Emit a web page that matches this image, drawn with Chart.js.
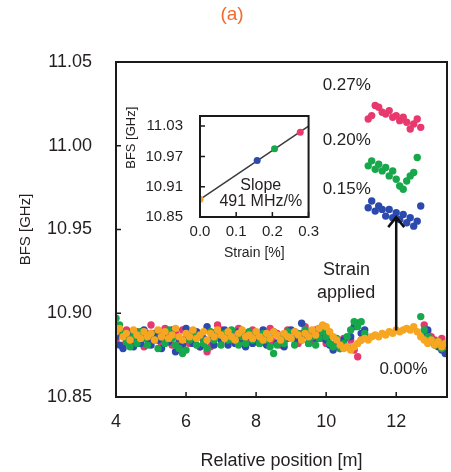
<!DOCTYPE html>
<html><head><meta charset="utf-8">
<script src="https://cdn.jsdelivr.net/npm/chart.js@4.4.1/dist/chart.umd.min.js"></script>
<style>
html,body{margin:0;padding:0;background:#fff;}
#wrap{position:relative;width:451px;height:472px;overflow:hidden;}
#main{position:absolute;left:0;top:0;}
#inset{position:absolute;left:100px;top:90px;}
</style></head><body>
<div id="wrap"><canvas id="main" width="451" height="472"></canvas><canvas id="inset" width="225" height="175"></canvas></div>
<script>
// ---------- DATA ----------
const positions = [
  4.0,4.1,4.2,4.3,4.4,4.5,4.6,4.7,4.8,4.9,
  5.0,5.1,5.2,5.3,5.4,5.5,5.6,5.7,5.8,5.9,
  6.0,6.1,6.2,6.3,6.4,6.5,6.6,6.7,6.8,6.9,
  7.0,7.1,7.2,7.3,7.4,7.5,7.6,7.7,7.8,7.9,
  8.0,8.1,8.2,8.3,8.4,8.5,8.6,8.7,8.8,8.9,
  9.0,9.1,9.2,9.3,9.4,9.5,9.6,9.7,9.8,9.9,
  10.0,10.1,10.2,10.3,10.4,10.5,10.6,10.7,10.8,10.9,
  11.0,11.1,11.2,11.3,11.4,11.5,11.6,11.7,11.8,11.9,
  12.0,12.1,12.2,12.3,12.4,12.5,12.6,12.7,12.8,12.9,
  13.0,13.1,13.2,13.3,13.4
];
const bfs000 = [
  10.889,10.891,10.886,10.888,10.884,10.890,10.887,10.885,10.889,10.886,
  10.888,10.884,10.890,10.886,10.889,10.885,10.887,10.891,10.886,10.884,
  10.888,10.886,10.890,10.885,10.887,10.889,10.884,10.888,10.886,10.890,
  10.887,10.885,10.889,10.886,10.884,10.888,10.890,10.886,10.887,10.885,
  10.889,10.886,10.884,10.888,10.885,10.889,10.887,10.884,10.888,10.886,
  10.885,10.889,10.887,10.884,10.888,10.886,10.890,10.887,10.891,10.893,
  10.892,10.889,10.886,10.884,10.881,10.879,10.880,10.878,10.880,10.882,
  10.884,10.885,10.884,10.886,10.887,10.886,10.888,10.887,10.889,10.888,
  10.890,10.889,10.890,10.891,10.890,10.892,10.889,10.886,10.884,10.882,
  10.884,10.881,10.883,10.880,10.882
];
const bfs015 = [
  10.886,10.881,10.879,10.884,10.888,10.880,10.885,10.882,10.890,10.884,
  10.881,10.888,10.884,10.879,10.886,10.883,10.890,10.877,10.885,10.881,
  10.891,10.886,10.882,10.889,10.880,10.885,10.892,10.884,10.881,10.888,
  10.884,10.890,10.881,10.886,10.882,10.889,10.885,10.880,10.886,10.882,
  10.888,10.884,10.890,10.881,10.885,10.889,10.882,10.886,10.880,10.885,
  10.890,10.884,10.886,10.894,10.887,10.882,10.889,10.885,10.891,10.886,
  10.884,10.881,10.878,10.883,10.879,10.884,10.880,10.886,10.892,10.894,
  10.888,10.890,10.963,10.967,10.961,10.964,10.962,10.958,10.962,10.957,
  10.960,10.956,10.959,10.954,10.957,10.952,10.955,10.964,10.886,10.890,
  10.884,10.882,10.880,10.878,10.876
];
const bfs020 = [
  10.897,10.893,10.888,10.883,10.880,10.886,10.882,10.889,10.885,10.881,
  10.888,10.884,10.879,10.886,10.882,10.890,10.885,10.881,10.879,10.876,
  10.878,10.884,10.888,10.881,10.886,10.882,10.879,10.889,10.884,10.887,
  10.881,10.888,10.884,10.890,10.885,10.881,10.886,10.882,10.889,10.884,
  10.887,10.882,10.888,10.884,10.880,10.876,10.881,10.886,10.882,10.889,
  10.885,10.881,10.888,10.884,10.890,10.882,10.886,10.881,10.885,10.889,
  10.886,10.882,10.880,10.885,10.879,10.882,10.886,10.890,10.895,10.892,
  10.895,10.888,10.988,10.991,10.986,10.989,10.985,10.987,10.982,10.985,
  10.980,10.976,10.974,10.979,10.982,10.984,10.993,10.898,10.890,10.886,
  10.884,10.881,10.883,10.879,10.882
];
const bfs027 = [
  10.884,10.888,10.881,10.890,10.885,10.882,10.889,10.886,10.880,10.888,
  10.893,10.885,10.889,10.882,10.891,10.886,10.881,10.888,10.883,10.890,
  10.885,10.882,10.889,10.886,10.880,10.884,10.877,10.880,10.888,10.893,
  10.890,10.886,10.883,10.889,10.885,10.891,10.882,10.888,10.883,10.890,
  10.886,10.882,10.889,10.885,10.891,10.883,10.888,10.881,10.886,10.890,
  10.885,10.889,10.882,10.888,10.892,10.886,10.883,10.890,10.887,10.885,
  10.882,10.886,10.879,10.884,10.881,10.885,10.880,10.884,10.878,10.874,
  10.884,10.887,11.016,11.018,11.024,11.023,11.020,11.019,11.021,11.017,
  11.018,11.015,11.017,11.014,11.010,11.013,11.016,11.011,10.893,10.889,
  10.886,10.884,10.882,10.885,10.881
];
const seriesLabels = ['0.00%','0.15%','0.20%','0.27%'];
const xTicks = [4,6,8,10,12];
const yTicks = [10.85,10.90,10.95,11.00,11.05];

const insetStrain = [0.000,0.158,0.206,0.277];
const insetBFS = [10.885,10.962,10.985,11.018];
const fitStrain = [0.0,0.3];
const fitBFS = [10.885,11.030];
const insetXTicks = [0.0,0.1,0.2,0.3];
const insetYTicks = [10.85,10.91,10.97,11.03];

// ---------- STYLE ----------
const FONT = '"Liberation Sans", Arial, Helvetica, sans-serif';
const TXT = '#231f20';
const COLORS = {'0.00%':'#f7a621','0.15%':'#2c4aae','0.20%':'#17a84b','0.27%':'#e8396f'};

const mainDecor = {
  id:'mainDecor',
  afterDatasetsDraw(chart){
    const {ctx, chartArea:a, scales:{x,y}} = chart;
    ctx.save();
    ctx.strokeStyle='#1a1a1a';
    ctx.lineWidth=2;
    ctx.strokeRect(a.left,a.top,a.right-a.left,a.bottom-a.top);
    ctx.lineWidth=1.5;
    ctx.beginPath();
    yTicks.forEach(v=>{const py=y.getPixelForValue(v);ctx.moveTo(a.left,py);ctx.lineTo(a.left+5,py);});
    xTicks.forEach(v=>{const px=x.getPixelForValue(v);ctx.moveTo(px,a.bottom);ctx.lineTo(px,a.bottom-5);});
    ctx.stroke();
    ctx.fillStyle=TXT;
    ctx.textBaseline='middle';
    ctx.textAlign='left';
    ctx.font='17px '+FONT;
    ctx.fillText('0.27%', x.getPixelForValue(9.9), y.getPixelForValue(11.036));
    ctx.fillText('0.20%', x.getPixelForValue(9.9), y.getPixelForValue(11.003));
    ctx.fillText('0.15%', x.getPixelForValue(9.9), y.getPixelForValue(10.974));
    ctx.fillText('0.00%', x.getPixelForValue(11.52), y.getPixelForValue(10.8666));
    ctx.textAlign='center';
    ctx.font='18px '+FONT;
    ctx.fillText('Strain', x.getPixelForValue(10.58), y.getPixelForValue(10.926));
    ctx.fillText('applied', x.getPixelForValue(10.57), y.getPixelForValue(10.912));
    const ax=x.getPixelForValue(12), y0=y.getPixelForValue(10.8897), y1=y.getPixelForValue(10.958);
    ctx.strokeStyle='#111';
    ctx.lineWidth=2.5;
    ctx.beginPath();
    ctx.moveTo(ax,y0);ctx.lineTo(ax,y1+1);
    ctx.moveTo(ax-8,y1+11);ctx.lineTo(ax,y1+1);ctx.lineTo(ax+8,y1+11);
    ctx.stroke();
    ctx.fillStyle='#f26b2c';
    ctx.font='19px '+FONT;
    ctx.textAlign='center';
    ctx.fillText('(a)', 232, 15);
    ctx.restore();
  }
};

const makeSeries = (vals) => positions.map((p,i)=>({x:p,y:vals[i]}));
const seriesVals = {'0.00%':bfs000,'0.15%':bfs015,'0.20%':bfs020,'0.27%':bfs027};
const orderMap = {'0.00%':0,'0.15%':2,'0.20%':1,'0.27%':3};

new Chart(document.getElementById('main'),{
  type:'scatter',
  data:{datasets: seriesLabels.map(l=>({
    label:l, data:makeSeries(seriesVals[l]), backgroundColor:COLORS[l],
    pointRadius:3.7, borderWidth:0, order:orderMap[l]
  }))},
  options:{
    responsive:false, animation:false, events:[],
    layout:{padding:{left:0,right:3,top:62,bottom:0}},
    plugins:{legend:{display:false},tooltip:{enabled:false},title:{display:false}},
    scales:{
      x:{type:'linear',min:4,max:13.45,
        afterFit(s){s.height=75;},
        afterBuildTicks(s){s.ticks=xTicks.map(v=>({value:v}));},
        grid:{display:false,drawTicks:false},border:{display:false},
        ticks:{autoSkip:false,maxRotation:0,padding:14,color:TXT,font:{size:18,family:FONT},callback:v=>String(v)},
        title:{display:true,text:'Relative position [m]',color:TXT,font:{size:18,family:FONT},padding:{top:0,bottom:0}}
      },
      y:{type:'linear',min:10.85,max:11.05,
        afterFit(s){s.width=116;},
        afterBuildTicks(s){s.ticks=yTicks.map(v=>({value:v}));},
        grid:{display:false,drawTicks:false},border:{display:false},
        ticks:{autoSkip:false,padding:24,color:TXT,font:{size:18,family:FONT},callback:v=>v.toFixed(2)},
        title:{display:true,text:'BFS [GHz]',color:TXT,font:{size:15,family:FONT},padding:{top:17,bottom:0}}
      }
    }
  },
  plugins:[mainDecor]
});

// ---------- INSET ----------
const insetColors = [COLORS['0.00%'],COLORS['0.15%'],COLORS['0.20%'],COLORS['0.27%']];
const insetDecor = {
  id:'insetDecor',
  beforeDatasetsDraw(chart){
    const {ctx, chartArea:a} = chart;
    ctx.save();ctx.fillStyle='#fff';ctx.fillRect(a.left,a.top,a.right-a.left,a.bottom-a.top);ctx.restore();
  },
  afterDatasetsDraw(chart){
    const {ctx, chartArea:a, scales:{x,y}} = chart;
    ctx.save();
    ctx.strokeStyle='#1a1a1a';ctx.lineWidth=2;
    ctx.strokeRect(a.left,a.top,a.right-a.left,a.bottom-a.top);
    ctx.lineWidth=1.5;ctx.beginPath();
    insetYTicks.forEach(v=>{const py=y.getPixelForValue(v);ctx.moveTo(a.left,py);ctx.lineTo(a.left+5,py);});
    insetXTicks.forEach(v=>{const px=x.getPixelForValue(v);ctx.moveTo(px,a.bottom);ctx.lineTo(px,a.bottom-5);});
    ctx.stroke();
    ctx.fillStyle=TXT;ctx.textAlign='center';ctx.textBaseline='middle';
    ctx.font='16px '+FONT;
    ctx.fillText('Slope', x.getPixelForValue(0.168), y.getPixelForValue(10.912));
    ctx.fillText('491 MHz/%', x.getPixelForValue(0.168), y.getPixelForValue(10.880));
    // rotated y title
    ctx.save();
    ctx.translate(31, y.getPixelForValue(11.007));
    ctx.rotate(-Math.PI/2);
    ctx.font='13px '+FONT;
    ctx.fillText('BFS [GHz]', 0, 0);
    ctx.restore();
    ctx.restore();
  }
};

new Chart(document.getElementById('inset'),{
  type:'scatter',
  data:{datasets:[
    {label:'fit',data:fitStrain.map((s,i)=>({x:s,y:fitBFS[i]})),showLine:true,borderColor:'#3a3a3a',borderWidth:1.5,pointRadius:0,order:2},
    {label:'points',data:insetStrain.map((s,i)=>({x:s,y:insetBFS[i]})),backgroundColor:insetColors,pointRadius:3.5,borderWidth:0,order:1}
  ]},
  options:{
    responsive:false, animation:false, events:[],
    layout:{padding:{left:0,right:13,top:9,bottom:0}},
    plugins:{legend:{display:false},tooltip:{enabled:false}},
    scales:{
      x:{type:'linear',min:0,max:0.3,
        afterFit(s){s.height=48;},
        afterBuildTicks(s){s.ticks=insetXTicks.map(v=>({value:v}));},
        grid:{display:false,drawTicks:false},border:{display:false},
        ticks:{autoSkip:false,maxRotation:0,padding:6,color:TXT,font:{size:15,family:FONT},callback:v=>v.toFixed(1)},
        title:{display:true,text:'Strain [%]',color:TXT,font:{size:14,family:FONT},padding:{top:0,bottom:3}}
      },
      y:{type:'linear',min:10.85,max:11.05,
        afterFit(s){s.width=100;},
        afterBuildTicks(s){s.ticks=insetYTicks.map(v=>({value:v}));},
        grid:{display:false,drawTicks:false},border:{display:false},
        ticks:{autoSkip:false,padding:17,color:TXT,font:{size:15,family:FONT},callback:v=>v.toFixed(2)},
        title:{display:false}
      }
    }
  },
  plugins:[insetDecor]
});
</script>
</body></html>
